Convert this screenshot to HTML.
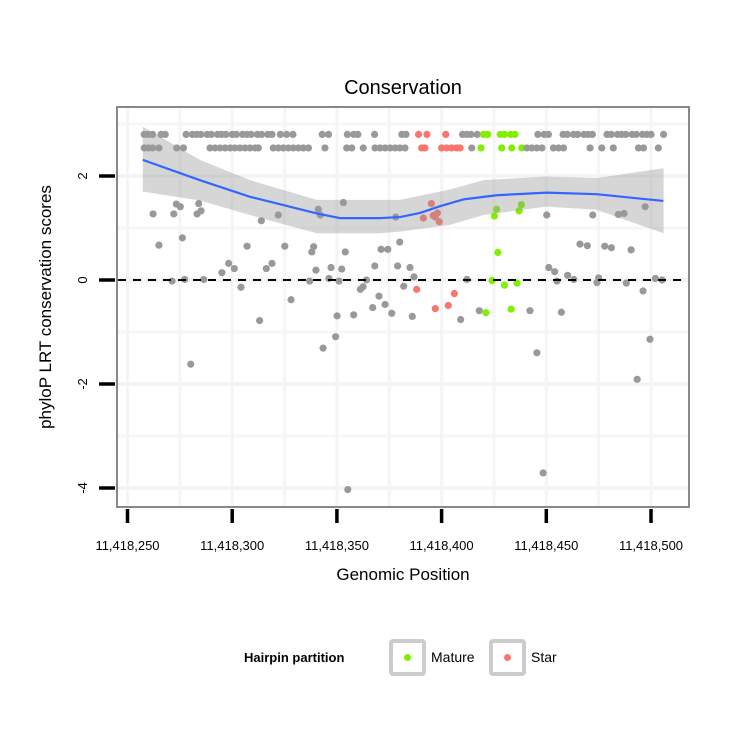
<!DOCTYPE html>
<html><head><meta charset="utf-8">
<style>
html,body{margin:0;padding:0;background:#fff;}
svg{display:block;font-family:"Liberation Sans",Arial,sans-serif;}
</style></head>
<body>
<svg id="chart" width="750" height="750" viewBox="0 0 750 750">
  <rect x="0" y="0" width="750" height="750" fill="#fff"/>
  <text x="403" y="94" text-anchor="middle" font-size="20" fill="#000">Conservation</text>
  <g id="grid"></g>
  <g id="points"></g>
  <g id="smooth"></g>
  <rect x="117" y="107" width="572" height="400" fill="none" stroke="#888" stroke-width="2"/>
  <g id="axes"></g>
  <text transform="translate(51,307) rotate(-90)" text-anchor="middle" font-size="17">phyloP LRT conservation scores</text>
  <text x="403" y="580" text-anchor="middle" font-size="17">Genomic Position</text>
  <g>
    <text x="244" y="662" font-size="13" font-weight="bold">Hairpin partition</text>
    <g>
      <rect x="391" y="641" width="33" height="33" rx="2" fill="#fff" stroke="#ccc" stroke-width="4"/>
      <circle cx="407.5" cy="657.5" r="3.5" fill="#80f000"/>
      <text x="431" y="662" font-size="14">Mature</text>
    </g>
    <g>
      <rect x="491" y="641" width="33" height="33" rx="2" fill="#fff" stroke="#ccc" stroke-width="4"/>
      <circle cx="507.5" cy="657.5" r="3.5" fill="#f8766d"/>
      <text x="531" y="662" font-size="14">Star</text>
    </g>
  </g>
</svg>
<script>
const xTicks = [250, 300, 350, 400, 450, 500];
const xTickLabels = ["11,418,250","11,418,300","11,418,350","11,418,400","11,418,450","11,418,500"];
const yTicks = [2, 0, -2, -4];
const yTickLabels = ["2","0","-2","-4"];

const topRowVal = 2.80;
const botRowVal = 2.54;
const topPos = [258,260,262,266,268,278,281,283,285,288,290,293,295,297,300,302,305,307,309,312,314,317,319,323,326,329,343,346,355,358,360,368,381,383,389,393,402,410,412,414,417,420,422,428,430,433,435,446,449,451,458,460,463,465,468,470,472,479,481,484,486,488,491,493,496,498,500,506];
const topGrp = "gggggggggg" + "gggggggggg" + "gggggggggg" + "gggg" + "sss" + "gggg" + "mmmmmm" + "gggggggggg" + "gggggggggg" + "g";
const botPos = [258,260,262,265,273.5,276.7,289.4,291.8,294.2,296.6,299,301.3,303.7,306.1,308.5,310.9,312.5,319.6,322,324.4,326.8,329.2,331.6,334,336.4,344.3,354.7,357.1,362.6,368.2,370.6,373,375.4,377.8,380.1,382.5,390.5,392,400,402.4,404.8,407.2,408.8,414.4,418.8,428.7,433.5,438.3,440.7,443.1,445.5,447.9,453.4,455.8,458.2,470.9,476.5,482,494,496.4,503.5];
const botGrp = "gggggggggg" + "gggggggggg" + "gggggggggg" + "gggggg" + "sssssss" + "g" + "mmmm" + "gggggggggg" + "ggg";

const scPos = [280.2,349.4,343.4,445.5,499.5,493.4,355.2,448.5,262.2,272.1,273.3,275.2,284.0,285.1,283.2,265.0,276.2,271.3,277.3,286.4,295.1,298.3,301.0,304.2,307.1,313.9,313.1,316.3,319.0,322.0,325.1,328.1,337.0,338.9,338.0,340.0,341.1,342.1,346.2,347.2,351.0,352.3,353.1,354.0,350.1,358.0,361.2,362.5,364.1,367.1,368.1,370.1,373.0,376.2,371.1,374.3,378.1,380.0,379.0,381.9,384.9,386.8,388.1,406.1,397.0,403.2,395.1,391.3,396.0,398.0,398.9,397.0,386.0,409.1,412.1,418.0,421.2,426.3,425.2,426.9,424.1,430.0,436.0,433.2,438.1,437.0,450.2,442.2,451.2,454.0,455.1,457.2,460.2,463.2,466.1,469.6,472.2,475.0,474.2,477.9,481.1,484.4,487.1,488.2,490.5,496.2,497.2,502.1,505.3];
const scVal = [-1.62,-1.09,-1.31,-1.40,-1.14,-1.91,-4.03,-3.71,1.27,1.27,1.46,1.41,1.47,1.33,1.27,0.67,0.81,-0.02,0.01,0.01,0.14,0.32,0.22,-0.14,0.65,1.14,-0.78,0.22,0.32,1.25,0.65,-0.38,-0.02,0.64,0.54,0.19,1.36,1.25,0.03,0.24,-0.02,0.21,1.49,0.54,-0.69,-0.67,-0.18,-0.13,0.00,-0.53,0.27,-0.31,-0.47,-0.64,0.59,0.59,1.21,0.73,0.27,-0.12,0.24,0.06,-0.18,-0.26,-0.55,-0.49,1.47,1.19,1.24,1.29,1.12,1.21,-0.70,-0.76,0.01,-0.59,-0.63,1.36,1.23,0.53,-0.01,-0.10,-0.06,-0.56,1.45,1.33,1.25,-0.59,0.24,0.16,-0.02,-0.62,0.09,0.01,0.69,0.66,1.25,0.04,-0.05,0.65,0.62,1.26,1.28,-0.06,0.58,-0.21,1.41,0.03,0.00];
const scGrp = "gggggggggg" + "gggggggggg" + "gggggggggg" + "gggggggggg" + "gggggggggg" + "gggggggggg" + "gg" + "ssssssssss" + "gggg" + "mmmmmmmmmm" + "gggggggggg" + "gggggggggg" + "ggg";

const fitPos = [257.3,284.6,308.5,340.4,351.5,370.6,380.1,389.7,399.2,410.4,426.3,450.2,474.1,505.9];
const fitVal = [2.31,1.92,1.60,1.28,1.19,1.19,1.21,1.29,1.42,1.55,1.63,1.68,1.65,1.52];
const bandPos = [257.3,284.6,308.5,340.4,370.6,380.1,404,420,450,474,506];
const bandUpper = [2.95,2.31,1.92,1.54,1.54,1.54,1.74,1.92,1.99,1.96,2.15];
const bandLower = [1.70,1.53,1.25,0.90,0.90,0.93,1.06,1.25,1.41,1.35,0.90];

const NS = "http://www.w3.org/2000/svg";
function X(p){ return 127.5 + (p - 250) * 2.094; }
function Y(v){ return 280 - v * 52; }
function mk(tag, attrs, parent){
  const e = document.createElementNS(NS, tag);
  for (const k in attrs) e.setAttribute(k, attrs[k]);
  parent.appendChild(e);
  return e;
}
const colors = {g:"#999999", m:"#80f000", s:"#f8766d"};

const grid = document.getElementById("grid");
mk("rect",{x:117,y:107,width:572,height:400,fill:"#fff"},grid);
for (let v = -5; v <= 3; v += 1) {
  const y = Y(v);
  if (y < 108 || y > 506) continue;
  const l = mk("line",{x1:118,x2:688,y1:y,y2:y,stroke:(v%2===0)?"#f2f2f2":"#f7f7f7","stroke-width":3},grid);
  
  
}
for (let p = 225; p <= 525; p += 25) {
  const x = X(p);
  if (x < 118 || x > 688) continue;
  const l = mk("line",{x1:x,x2:x,y1:108,y2:506,stroke:"#f5f5f5","stroke-width":3},grid);
  
  
}

const pts = document.getElementById("points");
function dot(p, v, g){
  const col = colors[g] || colors.g;
  const c = mk("circle",{cx:X(p),cy:Y(v),r:3.6,fill:col},pts);
  
  
}
topPos.forEach((p,i)=>dot(p, topRowVal, topGrp[i] || 'g'));
botPos.forEach((p,i)=>dot(p, botRowVal, botGrp[i] || 'g'));
scPos.forEach((p,i)=>dot(p, scVal[i], scGrp[i] || 'g'));

const sm = document.getElementById("smooth");
let d = "";
bandPos.forEach((p,i)=>{ d += (i?"L":"M") + X(p) + "," + Y(bandUpper[i]); });
for (let i = bandPos.length - 1; i >= 0; i--) d += "L" + X(bandPos[i]) + "," + Y(bandLower[i]);
d += "Z";
const band = mk("path",{d:d,fill:"#999",opacity:0.4},sm);


let ld = "";
fitPos.forEach((p,i)=>{ ld += (i?"L":"M") + X(p) + "," + Y(fitVal[i]); });
const fit = mk("path",{d:ld,fill:"none",stroke:"#3366ff","stroke-width":2.2,"stroke-linejoin":"round"},sm);


const zl = mk("line",{x1:118,x2:688,y1:Y(0),y2:Y(0),stroke:"#000","stroke-width":2,"stroke-dasharray":"8,7"},sm);



const ax = document.getElementById("axes");
xTicks.forEach((p,i)=>{
  const x = X(p);
  const t = mk("line",{x1:x,x2:x,y1:509,y2:523,stroke:"#000","stroke-width":3.5},ax);
  
  
  const tx = mk("text",{x:x,y:550,"text-anchor":"middle","font-size":13},ax);
  tx.textContent = xTickLabels[i];
  
  
});
yTicks.forEach((v,i)=>{
  const y = Y(v);
  const t = mk("line",{x1:99,x2:115,y1:y,y2:y,stroke:"#000","stroke-width":3.5},ax);
  
  
  const tx = mk("text",{transform:"translate(87,"+y+") rotate(-90)","text-anchor":"middle","font-size":13},ax);
  tx.textContent = yTickLabels[i];
  
  
});
</script>
</body></html>
